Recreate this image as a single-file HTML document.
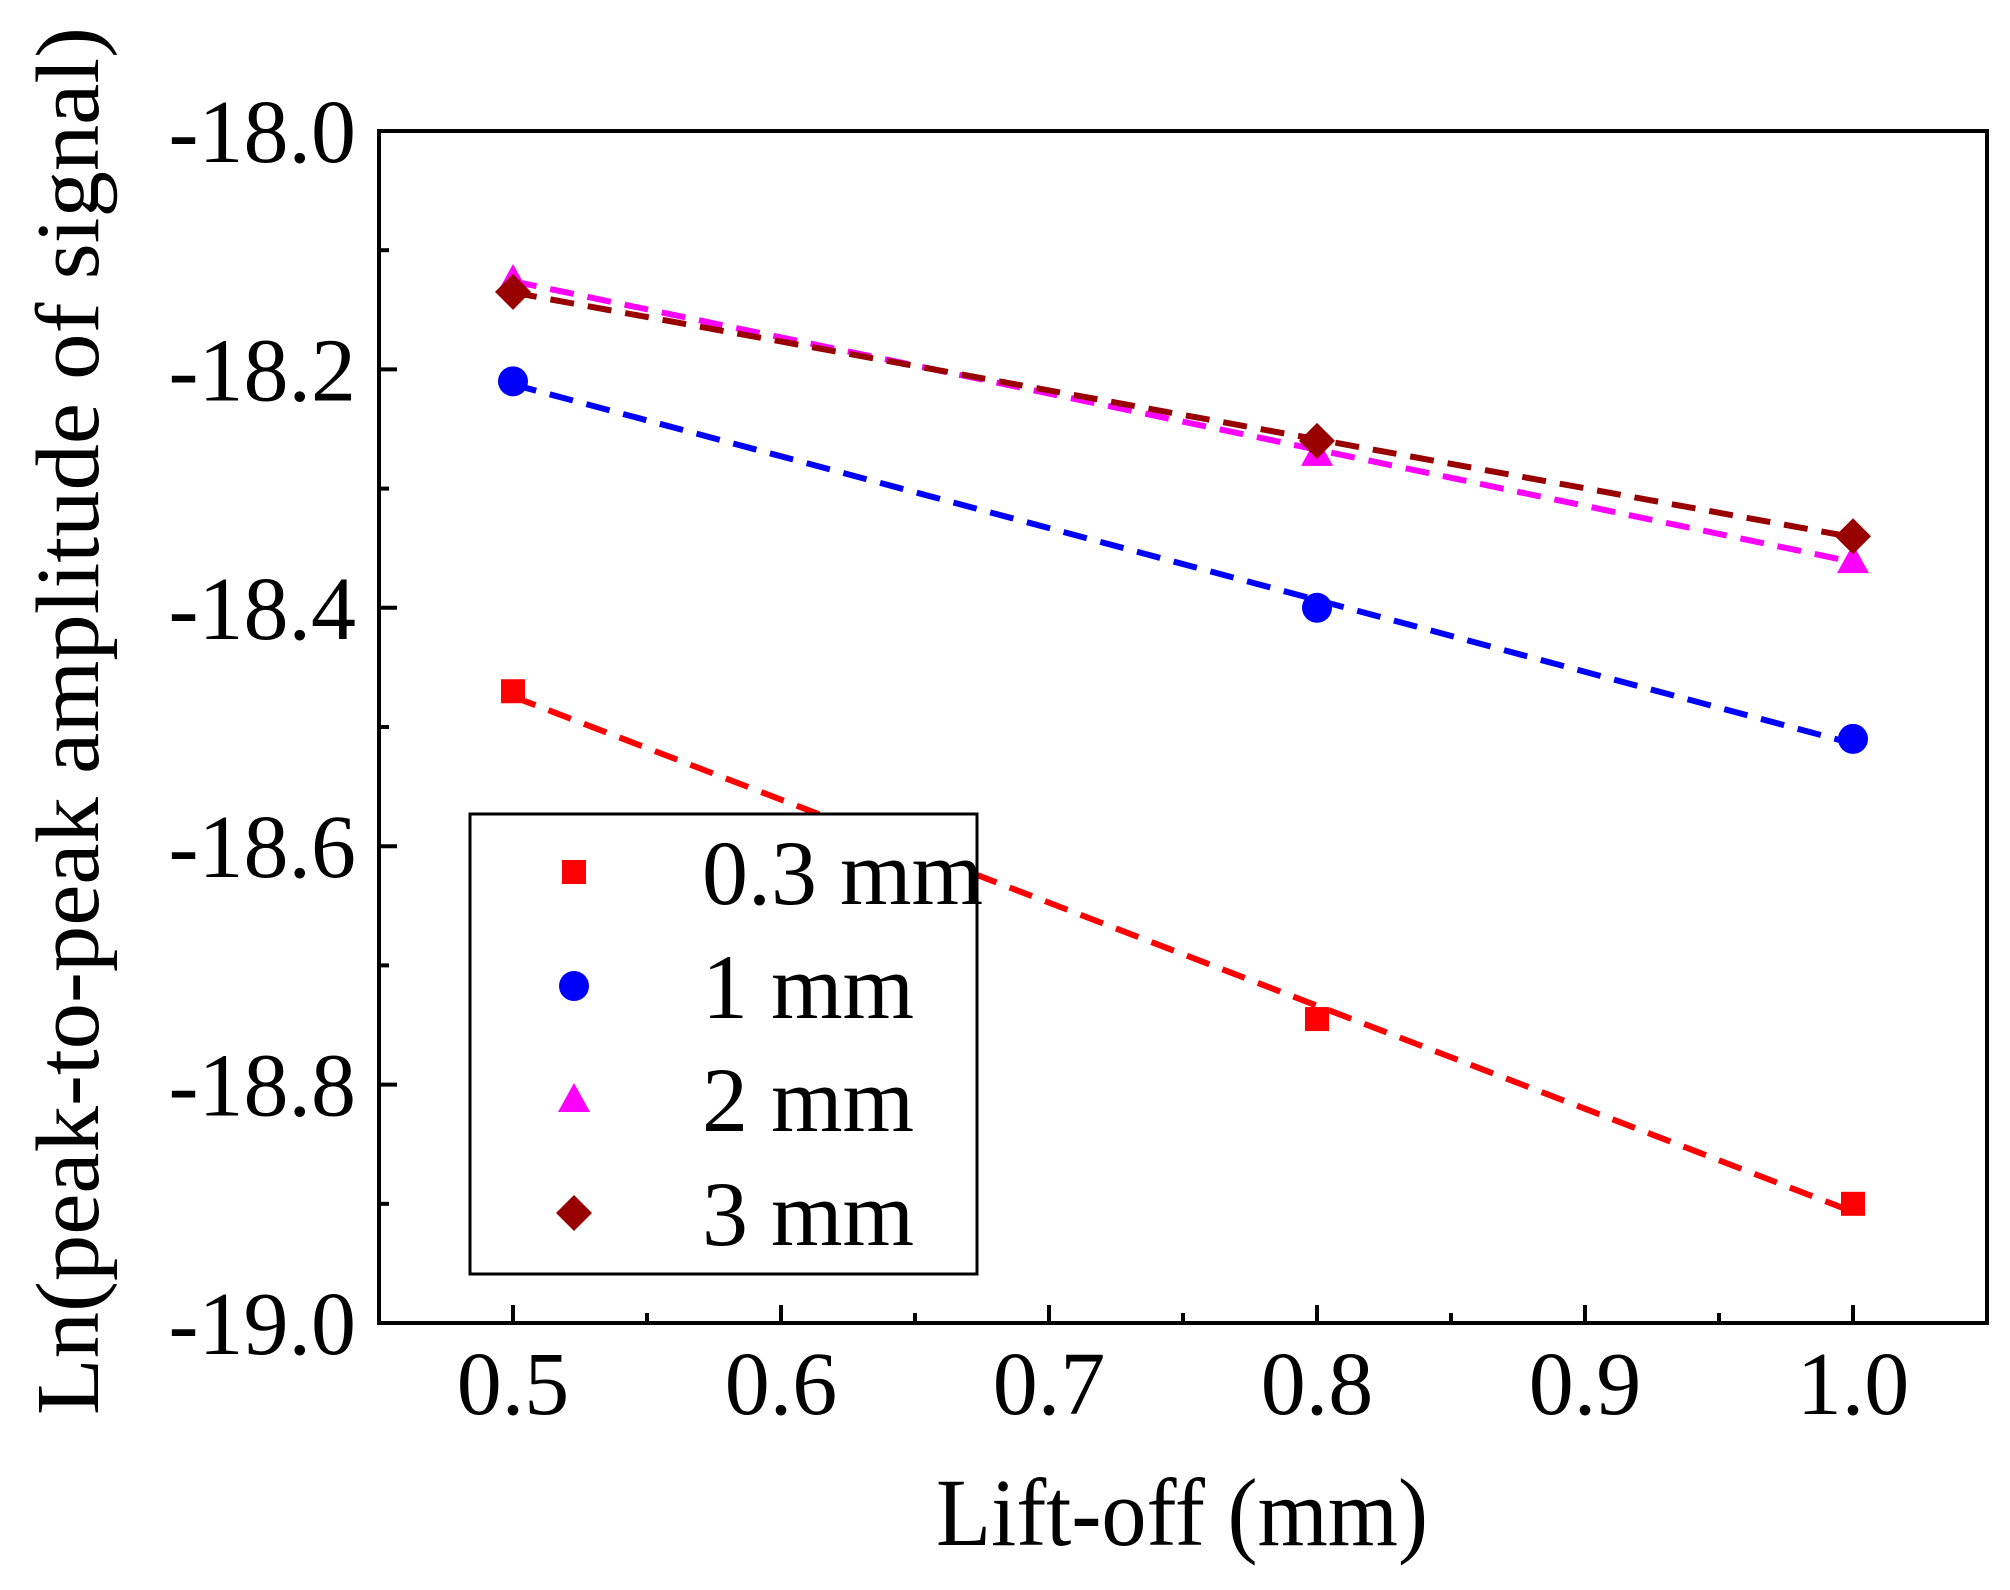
<!DOCTYPE html>
<html><head><meta charset="utf-8"><style>
html,body{margin:0;padding:0;background:#fff;}
svg text{font-family:"Liberation Serif",serif;fill:#000;}
</style></head><body>
<svg id="chart" width="2010" height="1585" viewBox="0 0 2010 1585" xmlns="http://www.w3.org/2000/svg">
<g id="grid"></g>
<g id="series"></g>
<rect x="379" y="131" width="1608" height="1192" fill="none" stroke="#000" stroke-width="4"/>
<g id="axes"></g>
<text x="1182" y="1545" font-size="96" text-anchor="middle" textLength="492" lengthAdjust="spacingAndGlyphs">Lift-off (mm)</text>
<text x="0" y="0" font-size="90" text-anchor="middle" transform="translate(98,721) rotate(-90)" textLength="1388" lengthAdjust="spacingAndGlyphs">Ln(peak-to-peak amplitude of signal)</text>
<g id="legend"></g>
</svg>
<script>
const xValues = [0.5, 0.8, 1.0];
const seriesNames = ["0.3 mm", "1 mm", "2 mm", "3 mm"];
const series03 = [-18.47, -18.745, -18.90];
const series1 = [-18.21, -18.40, -18.51];
const series2 = [-18.125, -18.27, -18.36];
const series3 = [-18.135, -18.26, -18.34];
const xTicks = [0.5, 0.6, 0.7, 0.8, 0.9, 1.0];
const xTickLabels = ["0.5", "0.6", "0.7", "0.8", "0.9", "1.0"];
const yTicks = [-18.0, -18.2, -18.4, -18.6, -18.8, -19.0];
const yTickLabels = ["-18.0", "-18.2", "-18.4", "-18.6", "-18.8", "-19.0"];

const NS = "http://www.w3.org/2000/svg";
const L = 379, R = 1987, T = 131, B = 1323;
const xMin = 0.45, xMax = 1.05, yMin = -19.0, yMax = -18.0;
function xs(v){ return L + (v - xMin) / (xMax - xMin) * (R - L); }
function ys(v){ return B - (v - yMin) / (yMax - yMin) * (B - T); }
function mk(tag, attrs, parent){
  const e = document.createElementNS(NS, tag);
  for (const k in attrs) e.setAttribute(k, attrs[k]);
  parent.appendChild(e); return e;
}
const axes = document.getElementById("axes");
xTicks.forEach((t, i) => {
  const x = xs(t);
  const tk = mk("line", {x1:x, x2:x, y1:B, y2:B-18, stroke:"#000", "stroke-width":4}, axes);
  
  
  const mx = xs(t + 0.05);
  if (t + 0.05 < xMax) {
    const m = mk("line", {x1:mx, x2:mx, y1:B, y2:B-10, stroke:"#000", "stroke-width":4}, axes);
    
    
  }
  const lb = mk("text", {x:x, y:1414, "font-size":90, "text-anchor":"middle"}, axes);
  lb.textContent = xTickLabels[i];
  
  
});
yTicks.forEach((t, i) => {
  const y = ys(t);
  const tk = mk("line", {x1:L, x2:L+18, y1:y, y2:y, stroke:"#000", "stroke-width":4}, axes);
  
  
  if (t - 0.1 > yMin - 0.001) {
    const my = ys(t - 0.1);
    const m = mk("line", {x1:L, x2:L+10, y1:my, y2:my, stroke:"#000", "stroke-width":4}, axes);
    
    
  }
  const lb = mk("text", {x:356, y:y+31, "font-size":90, "text-anchor":"end"}, axes);
  lb.textContent = yTickLabels[i];
  
  
});

const allSeries = [series03, series1, series2, series3];
const colors = ["#ff0000", "#0000ff", "#ff00ff", "#990000"];
const shapes = ["square", "circle", "triangle", "diamond"];
function marker(shape, cx, cy, color, parent){
  if (shape === "square") return mk("rect", {x:cx-12, y:cy-12, width:24, height:24, fill:color}, parent);
  if (shape === "circle") return mk("circle", {cx:cx, cy:cy, r:15, fill:color}, parent);
  if (shape === "triangle") return mk("polygon", {points:`${cx},${cy-16} ${cx+16},${cy+13} ${cx-16},${cy+13}`, fill:color}, parent);
  return mk("polygon", {points:`${cx},${cy-18} ${cx+18},${cy} ${cx},${cy+18} ${cx-18},${cy}`, fill:color}, parent);
}
const sg = document.getElementById("series");
allSeries.forEach((vals, si) => {
  const n = xValues.length;
  const mxv = xValues.reduce((a,b)=>a+b,0)/n, myv = vals.reduce((a,b)=>a+b,0)/n;
  let sxy = 0, sxx = 0;
  for (let i=0;i<n;i++){ sxy += (xValues[i]-mxv)*(vals[i]-myv); sxx += (xValues[i]-mxv)**2; }
  const slope = sxy/sxx, icp = myv - slope*mxv;
  const x0 = xValues[0], x1 = xValues[n-1];
  const ln = mk("line", {x1:xs(x0), y1:ys(icp+slope*x0), x2:xs(x1), y2:ys(icp+slope*x1), stroke:colors[si], "stroke-width":6, "stroke-dasharray":"24 14"}, sg);
  
  
});
allSeries.forEach((vals, si) => {
  vals.forEach((v, i) => {
    const m = marker(shapes[si], xs(xValues[i]), ys(v), colors[si], sg);
    
    
  });
});
const lg = document.getElementById("legend");
const box = mk("rect", {x:470, y:814, width:507, height:460, fill:"#fff", stroke:"#000", "stroke-width":3}, lg);


const ly = [872, 986, 1099, 1213];
seriesNames.forEach((nm, i) => {
  const m = marker(shapes[i], 574, ly[i], colors[i], lg);
  
  
  const t = mk("text", {x:702, y:ly[i]+32, "font-size":92}, lg);
  t.textContent = nm;
  
  
});
</script>
</body></html>
